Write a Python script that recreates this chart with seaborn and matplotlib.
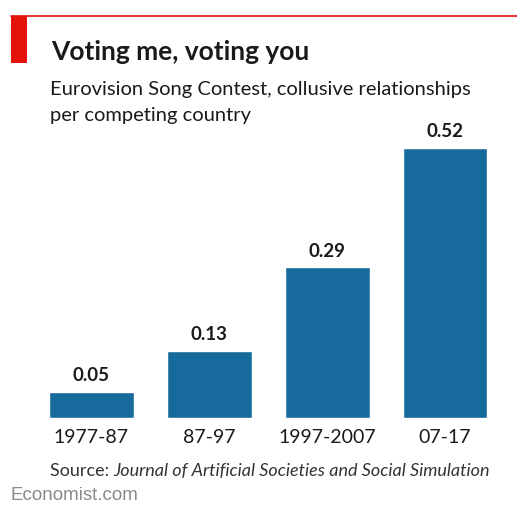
import matplotlib
matplotlib.use("Agg")
import matplotlib.pyplot as plt
import seaborn as sns
import pandas as pd
from matplotlib.patches import Rectangle
from matplotlib.lines import Line2D

periods = ["1977-87", "87-97", "1997-2007", "07-17"]
values = [0.05, 0.13, 0.29, 0.52]
value_labels = ["0.05", "0.13", "0.29", "0.52"]

title = "Voting me, voting you"
subtitle_lines = ["Eurovision Song Contest, collusive relationships",
                  "per competing country"]
source_prefix = "Source: "
source_name = "Journal of Artificial Societies and Social Simulation"
footer = "Economist.com"

sns.set_theme(style="white")
plt.rcParams['font.family'] = ['Lato', 'DejaVu Sans']

W, H = 517, 505
fig = plt.figure(figsize=(W / 100, H / 100), dpi=100)
fig.patch.set_facecolor("white")

ax = fig.add_axes([32.5 / W, (H - 418) / H, 471.5 / W, 288 / H])
df = pd.DataFrame({"period": periods, "value": values})
sns.barplot(data=df, x="period", y="value", color="#176b9c", saturation=1,
            width=0.72, ax=ax)
ax.set_xlim(-0.5, 3.5)
ax.set_ylim(0, 288 / 519)
ax.set_xlabel("")
ax.set_ylabel("")
ax.set_yticks([])
for s in ax.spines.values():
    s.set_visible(False)
ax.tick_params(axis="x", length=0, pad=8, labelsize=14, labelcolor="#1a1a1a")
ax.patch.set_alpha(0)

for i, (v, lab) in enumerate(zip(values, value_labels)):
    ax.annotate(lab, (i, v), xytext=(0, 5.5), textcoords="offset points",
                ha="center", va="bottom", fontsize=13.5, fontweight="bold",
                color="#1a1a1a")

# Header decorations
fig.add_artist(Line2D([11 / W, 1], [1 - 16 / H, 1 - 16 / H], color="#e3120b", lw=1.2))
fig.add_artist(Rectangle((11 / W, 1 - 63 / H), 16 / W, 47 / H, color="#e3120b", lw=0))

fig.text(51 / W, 1 - 52 / H, title, fontsize=19, fontweight="bold",
         color="#1a1a1a", va="center", ha="left")
for k, line in enumerate(subtitle_lines):
    fig.text(50 / W, 1 - (90 + 26 * k) / H, line, fontsize=14.5, color="#1a1a1a",
             va="center", ha="left")

t = fig.text(50 / W, 1 - 471 / H, source_prefix, fontsize=13, color="#333333",
             va="center", ha="left")
fig.canvas.draw()
bb = t.get_window_extent()
fig.text(bb.x1 / W, 1 - 471 / H, source_name, fontsize=13, color="#333333",
         style="italic", va="center", ha="left")

fig.text(11 / W, 1 - 495 / H, footer, fontsize=13.5, color="#8a8a8a",
         family=["Liberation Sans", "DejaVu Sans"], va="center", ha="left")

fig.savefig("out.png", dpi=100, facecolor="white")
